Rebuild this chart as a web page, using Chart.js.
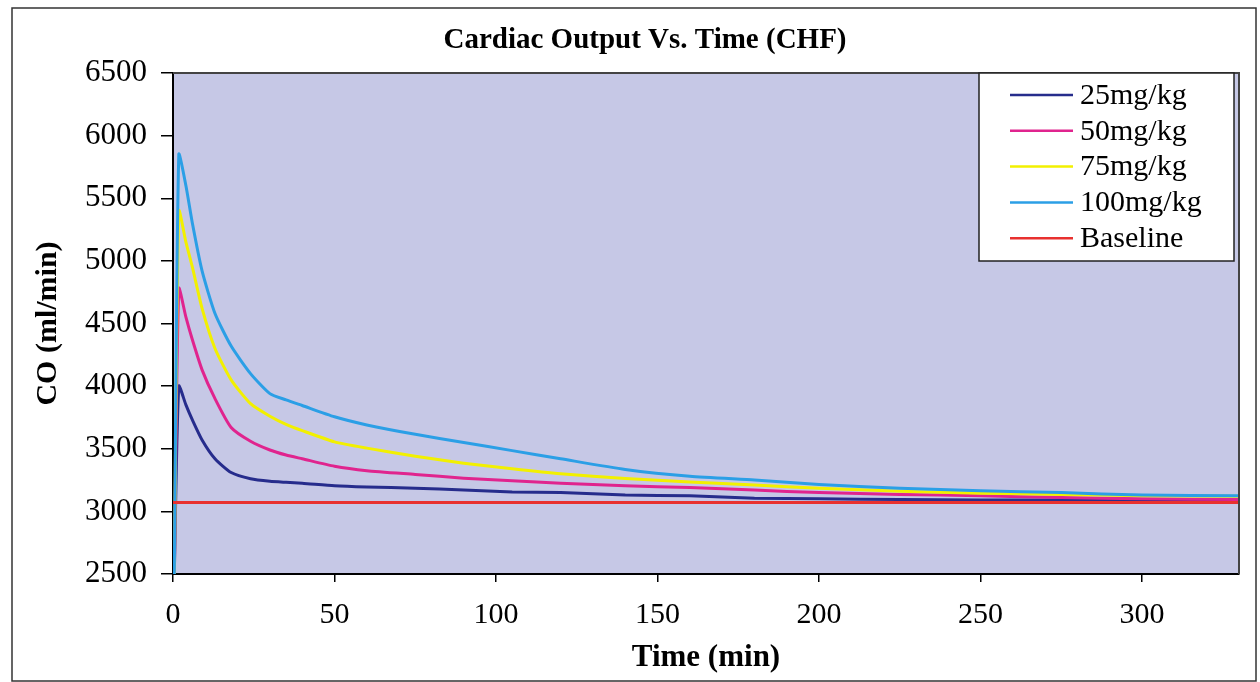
<!DOCTYPE html>
<html>
<head>
<meta charset="utf-8">
<script src="https://cdn.jsdelivr.net/npm/chart.js@4.4.1/dist/chart.umd.min.js"></script>
<style>
  html, body { margin: 0; padding: 0; background: #ffffff; }
  #wrap { width: 1260px; height: 682px; position: relative; }
</style>
</head>
<body>
<div id="wrap"><canvas id="c" width="1260" height="682"></canvas></div>
<script>
// ---- data ----
const chartTitle = "Cardiac Output Vs. Time (CHF)";
const xTitle = "Time (min)";
const yTitle = "CO (ml/min)";
const seriesNames = ["25mg/kg", "50mg/kg", "75mg/kg", "100mg/kg", "Baseline"];
const seriesColors = ["#262c8c", "#e0248e", "#f2f000", "#2b9fe6", "#e8312f"];

const times = [0.4, 1.8, 4, 6, 9, 13, 18, 24, 30, 35, 40, 50, 60, 75, 90, 105, 120, 140, 160, 180, 200, 225, 250, 275, 300, 330];
const co25  = [2500, 4000, 3850, 3730, 3570, 3420, 3310, 3260, 3240, 3232, 3225, 3205, 3195, 3185, 3170, 3155, 3150, 3130, 3125, 3105, 3100, 3095, 3090, 3090, 3085, 3085];
const co50  = [2500, 4780, 4550, 4370, 4130, 3900, 3670, 3560, 3490, 3450, 3420, 3360, 3325, 3295, 3265, 3245, 3225, 3205, 3190, 3170, 3150, 3135, 3125, 3110, 3100, 3095];
const co75  = [2500, 5400, 5150, 4950, 4620, 4300, 4050, 3860, 3760, 3695, 3645, 3555, 3505, 3440, 3385, 3340, 3300, 3262, 3235, 3210, 3185, 3160, 3145, 3135, 3125, 3120];
const co100 = [2500, 5850, 5600, 5300, 4920, 4580, 4320, 4100, 3940, 3890, 3845, 3755, 3690, 3615, 3550, 3485, 3420, 3335, 3280, 3250, 3215, 3185, 3165, 3150, 3130, 3125];
const baselineTimes = [0, 330];
const baselineValues = [3070, 3070];

const xMin = 0, xMax = 330, xStep = 50;
const yMin = 2500, yMax = 6500, yStep = 500;

// ---- build datasets ----
function pts(xs, ys) { return xs.map((x, i) => ({ x: x, y: ys[i] })); }
const seriesData = [pts(times, co25), pts(times, co50), pts(times, co75), pts(times, co100), pts(baselineTimes, baselineValues)];

const datasets = seriesNames.map((name, i) => ({
  label: name,
  data: seriesData[i],
  borderColor: seriesColors[i],
  backgroundColor: seriesColors[i],
  borderWidth: 3,
  pointRadius: 0,
  tension: 0.2,
  fill: false,
  order: seriesNames.length - i
}));

const serif = "'Liberation Serif', 'Times New Roman', serif";

const decorPlugin = {
  id: 'decor',
  beforeDraw(chart) {
    const ctx = chart.ctx, a = chart.chartArea;
    ctx.save();
    ctx.fillStyle = '#ffffff';
    ctx.fillRect(0, 0, chart.width, chart.height);
    ctx.fillStyle = '#c6c8e6';
    ctx.fillRect(a.left, a.top, a.right - a.left, a.bottom - a.top);
    ctx.restore();
  },
  afterDraw(chart) {
    const ctx = chart.ctx, a = chart.chartArea;
    ctx.save();
    // outer frame
    ctx.strokeStyle = '#333';
    ctx.lineWidth = 1.5;
    ctx.strokeRect(12, 8, chart.width - 16, chart.height - 9);
    // title
    ctx.fillStyle = '#000';
    ctx.font = 'bold 29px ' + serif;
    ctx.textAlign = 'center';
    ctx.textBaseline = 'middle';
    ctx.fillText(chartTitle, 645, 41);
    // plot frame top/right
    ctx.strokeStyle = '#444';
    ctx.lineWidth = 2;
    ctx.beginPath();
    ctx.moveTo(a.left, a.top); ctx.lineTo(a.right, a.top); ctx.lineTo(a.right, a.bottom);
    ctx.stroke();
    // legend
    const bx = a.right - 260, by = a.top, bw = 255, bh = 188;
    ctx.fillStyle = '#ffffff';
    ctx.fillRect(bx, by, bw, bh);
    ctx.strokeStyle = '#222';
    ctx.lineWidth = 1.5;
    ctx.strokeRect(bx, by, bw, bh);
    ctx.font = '30px ' + serif;
    ctx.textBaseline = 'middle';
    ctx.textAlign = 'left';
    chart.data.datasets.forEach((ds, i) => {
      const cy = by + 22 + i * 35.8;
      ctx.strokeStyle = ds.borderColor;
      ctx.lineWidth = 2.5;
      ctx.beginPath();
      ctx.moveTo(bx + 31, cy); ctx.lineTo(bx + 94, cy);
      ctx.stroke();
      ctx.fillStyle = '#000';
      ctx.fillText(ds.label, bx + 101, cy + 1);
    });
    ctx.restore();
  }
};

new Chart(document.getElementById('c'), {
  type: 'line',
  data: { datasets: datasets },
  plugins: [decorPlugin],
  options: {
    responsive: false,
    animation: false,
    layout: { padding: { top: 73, right: 21, bottom: 0, left: 0 } },
    plugins: {
      legend: { display: false },
      tooltip: { enabled: false },
      title: { display: false }
    },
    scales: {
      x: {
        type: 'linear',
        min: xMin, max: xMax,
        afterFit(scale) { scale.height = 108; },
        ticks: { stepSize: xStep, includeBounds: false, color: '#000', padding: 15, maxRotation: 0,
                 font: { family: serif, size: 30 }, callback: v => String(v) },
        grid: { display: true, drawOnChartArea: false, drawTicks: true, tickLength: 8, color: '#000', lineWidth: 1.5 },
        border: { display: true, color: '#000', width: 2 },
        title: { display: true, text: xTitle, color: '#000', font: { family: serif, size: 31, weight: 'bold' },
                 padding: { top: 0, bottom: 5 } }
      },
      y: {
        type: 'linear',
        min: yMin, max: yMax,
        afterFit(scale) { scale.width = 173; },
        ticks: { stepSize: yStep, color: '#000', padding: 14, font: { family: serif, size: 31 }, callback: v => String(v) },
        grid: { display: true, drawOnChartArea: false, drawTicks: true, tickLength: 12, color: '#000', lineWidth: 1.5 },
        border: { display: true, color: '#000', width: 2 },
        title: { display: true, text: yTitle, color: '#000', font: { family: serif, size: 30, weight: 'bold' },
                 padding: { top: 30, bottom: 0 } }
      }
    }
  }
});
</script>
</body>
</html>
